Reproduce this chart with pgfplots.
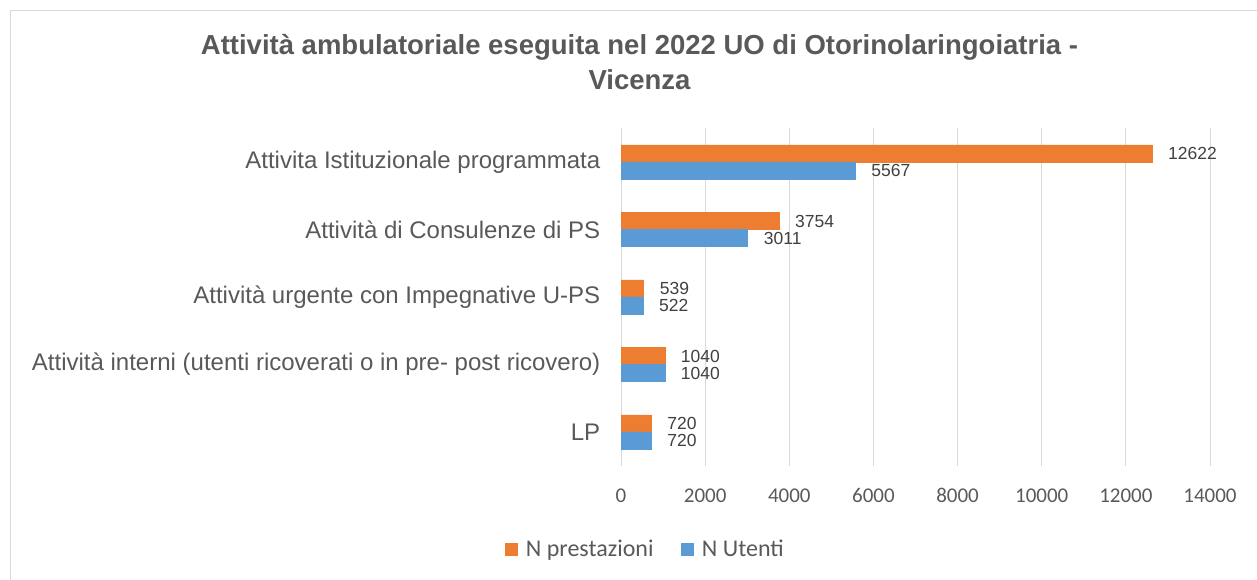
\documentclass[border=0pt]{standalone}
\usepackage{pgfplots}
\pgfplotsset{compat=1.18}
\usepackage{fontspec}
\setmainfont{Liberation Sans}
\newfontfamily\calibri{Carlito}
\definecolor{cOrange}{HTML}{ED7D31}
\definecolor{cBlue}{HTML}{5B9BD5}
\definecolor{cGrid}{HTML}{D9D9D9}
\definecolor{cText}{HTML}{595959}
\definecolor{cDark}{HTML}{404040}
\begin{document}
\begin{tikzpicture}
\useasboundingbox (0,0) rectangle (1257pt,580pt);
\draw[cGrid, line width=1pt] (10.5pt,0) -- (10.5pt,569.5pt) -- (1257pt,569.5pt);
\node[font=\fontsize{27.5}{35}\selectfont\bfseries, text=cText, align=center] at (639.5pt,518pt) {Attività ambulatoriale eseguita nel 2022 UO di Otorinolaringoiatria -\\Vicenza};
\begin{axis}[
 at={(621pt,114.25pt)}, anchor=south west, scale only axis, width=589pt, height=337.5pt,
 xbar, xmin=0, xmax=14000, ymin=-0.5, ymax=4.5,
 bar width=17pt,
 axis line style={draw=none}, tick style={draw=none},
 xmajorgrids, major grid style={cGrid, line width=1pt},
 xtick={0,2000,...,14000}, scaled x ticks=false,
 ytick={0,1,2,3,4},
 yticklabels={LP, Attività interni (utenti ricoverati o in pre- post ricovero), Attività urgente con Impegnative U-PS, Attività di Consulenze di PS, Attivita Istituzionale programmata},
 /pgf/number format/1000 sep={}, /pgf/number format/assume math mode=true,
 xticklabel style={font=\calibri\fontsize{21}{21}\selectfont, text=cText, anchor=base, yshift=-37pt},
 yticklabel style={font=\fontsize{24}{24}\selectfont, text=cText, xshift=-13pt},
 nodes near coords, nodes near coords style={font=\fontsize{17.5}{17.5}\selectfont, text=cDark, anchor=west, inner sep=0pt, xshift=16pt},
 legend style={at={(0.041,-0.2467)}, anchor=center, draw=none, legend columns=2, font=\calibri\fontsize{24}{24}\selectfont, text=cText, /tikz/every odd column/.append style={column sep=7pt}, /tikz/every even column/.append style={column sep=25pt}},
 legend image code/.code={\fill[#1] (0pt,-6pt) rectangle (12pt,6pt);},
]
\addplot[fill=cOrange, draw=cOrange, bar shift=8.5pt] coordinates {(720,0) (1040,1) (539,2) (3754,3) (12622,4)};
\addplot[fill=cBlue, draw=cBlue, bar shift=-8.5pt] coordinates {(720,0) (1040,1) (522,2) (3011,3) (5567,4)};
\legend{N prestazioni, N Utenti}
\end{axis}
\end{tikzpicture}
\end{document}
